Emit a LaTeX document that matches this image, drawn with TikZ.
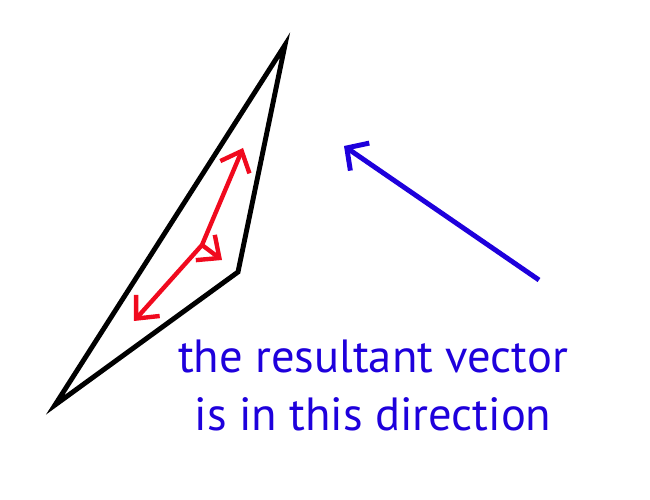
\documentclass[tikz,border=0pt]{standalone}
\usepackage{fontspec}
\setmainfont{PT Sans}
\usetikzlibrary{arrows.meta}
\definecolor{vecred}{RGB}{240,10,30}
\definecolor{vecblue}{RGB}{30,0,220}
\tikzset{
  side/.style={line width=2.8pt,line join=miter},
  force/.style={vecred,line width=2.5pt,-{Straight Barb[length=10pt,width=18pt,line width=2.5pt]}},
  resultant/.style={vecblue,line width=2.8pt,-{Straight Barb[length=9pt,width=19pt,line width=2.8pt]}},
  caption/.style={vecblue,font=\fontsize{26.5}{33}\selectfont,align=center}
}
\begin{document}
\begin{tikzpicture}[x=0.02cm,y=-0.02cm]
\useasboundingbox (0,0) rectangle (650,500);
\coordinate (top) at (285,45);
\coordinate (low) at (55,405);
\coordinate (mid) at (238,272);
\coordinate (O) at (202,245);
\coordinate (F1) at (243,148);
\coordinate (F2) at (134,321);
\coordinate (F3) at (222,260);
\coordinate (Rs) at (539,280);
\coordinate (Re) at (344,146);

\draw[side] (top) -- (low) -- (mid) -- cycle;

\draw[force] (O) -- (F1);
\draw[force] (O) -- (F2);
\draw[force] (O) -- (F3);

\draw[resultant] (Rs) -- (Re);

\node[caption] (text) at (373,385) {the resultant vector\\ is in this direction};
\end{tikzpicture}
\end{document}
